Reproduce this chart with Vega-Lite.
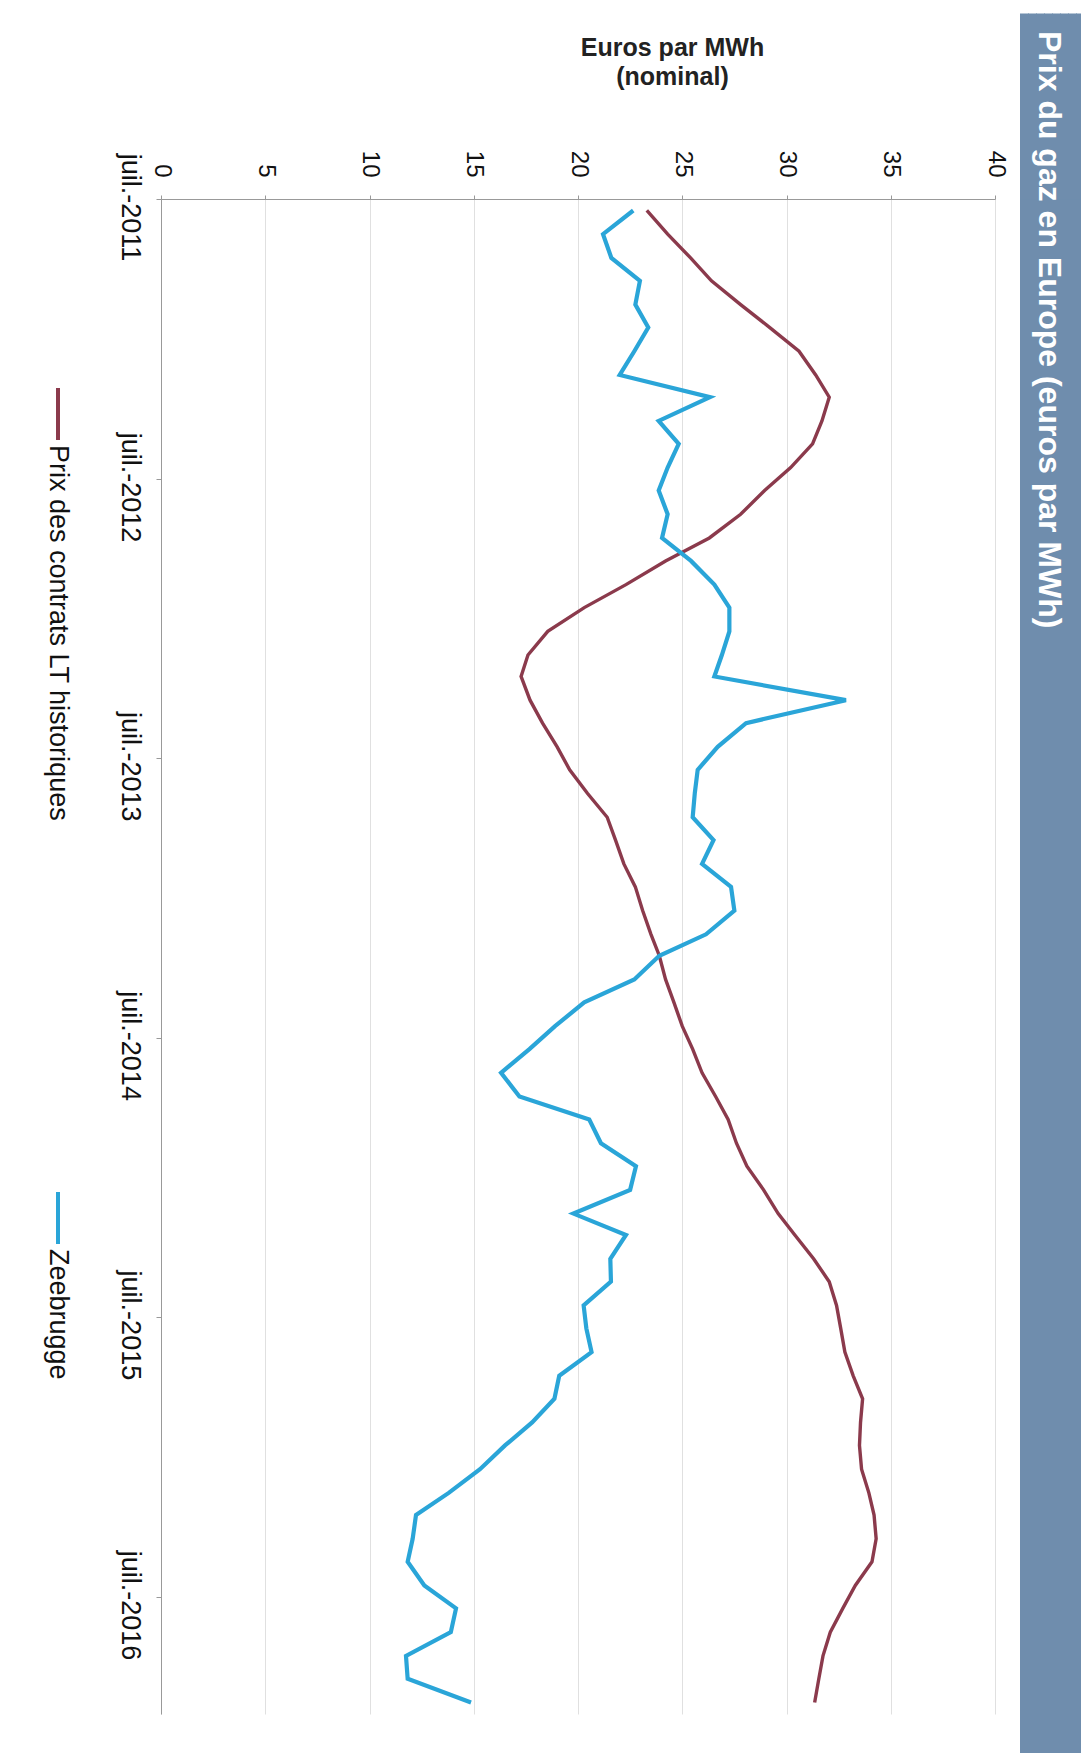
{
  "$schema": "https://vega.github.io/schema/vega-lite/v6.json",
  "padding": {"left": 13, "top": 6, "right": 0, "bottom": 0},
  "background": "white",
  "spacing": 12,
  "config": {"font": "Liberation Sans", "view": {"stroke": null}},
  "hconcat": [
    {
      "width": 90,
      "height": 1234,
      "data": {"values": [{"series": "Prix des contrats LT historiques"}, {"series": "Zeebrugge"}]},
      "encoding": {
        "y": {"field": "series", "type": "nominal", "scale": {"type": "point", "padding": 0.2674, "domain": ["Prix des contrats LT historiques", "Zeebrugge"]}, "axis": null}
      },
      "layer": [
        {
          "mark": {"type": "tick", "orient": "vertical", "size": 52, "thickness": 4, "opacity": 1},
          "encoding": {
            "color": {"field": "series", "type": "nominal", "scale": {"domain": ["Prix des contrats LT historiques", "Zeebrugge"], "range": ["#8b3a4c", "#2aa5d8"]}, "legend": null}
          }
        },
        {
          "mark": {"type": "text", "angle": 90, "align": "left", "baseline": "middle", "dx": 31, "fontSize": 27, "color": "#111111"},
          "encoding": {"text": {"field": "series"}}
        }
      ]
    },
    {
      "width": 834,
      "height": 1515,
      "data": {"values": [
        {"date": "2011-07-16", "Prix des contrats LT historiques": 23.3, "Zeebrugge": 22.65},
        {"date": "2011-08-16", "Prix des contrats LT historiques": 24.3, "Zeebrugge": 21.2},
        {"date": "2011-09-16", "Prix des contrats LT historiques": 25.4, "Zeebrugge": 21.6},
        {"date": "2011-10-16", "Prix des contrats LT historiques": 26.4, "Zeebrugge": 22.97},
        {"date": "2011-11-16", "Prix des contrats LT historiques": 27.8, "Zeebrugge": 22.75},
        {"date": "2011-12-16", "Prix des contrats LT historiques": 29.2, "Zeebrugge": 23.37},
        {"date": "2012-01-16", "Prix des contrats LT historiques": 30.6, "Zeebrugge": 22.7},
        {"date": "2012-02-16", "Prix des contrats LT historiques": 31.4, "Zeebrugge": 22.0},
        {"date": "2012-03-16", "Prix des contrats LT historiques": 32.05, "Zeebrugge": 26.33},
        {"date": "2012-04-16", "Prix des contrats LT historiques": 31.7, "Zeebrugge": 23.87},
        {"date": "2012-05-16", "Prix des contrats LT historiques": 31.25, "Zeebrugge": 24.83},
        {"date": "2012-06-16", "Prix des contrats LT historiques": 30.2, "Zeebrugge": 24.3},
        {"date": "2012-07-16", "Prix des contrats LT historiques": 28.95, "Zeebrugge": 23.87},
        {"date": "2012-08-16", "Prix des contrats LT historiques": 27.8, "Zeebrugge": 24.3},
        {"date": "2012-09-16", "Prix des contrats LT historiques": 26.3, "Zeebrugge": 24.03},
        {"date": "2012-10-16", "Prix des contrats LT historiques": 24.2, "Zeebrugge": 25.42},
        {"date": "2012-11-16", "Prix des contrats LT historiques": 22.3, "Zeebrugge": 26.54},
        {"date": "2012-12-16", "Prix des contrats LT historiques": 20.3, "Zeebrugge": 27.26},
        {"date": "2013-01-16", "Prix des contrats LT historiques": 18.55, "Zeebrugge": 27.26},
        {"date": "2013-02-16", "Prix des contrats LT historiques": 17.6, "Zeebrugge": 26.9},
        {"date": "2013-03-16", "Prix des contrats LT historiques": 17.27, "Zeebrugge": 26.54},
        {"date": "2013-04-16", "Prix des contrats LT historiques": 17.7, "Zeebrugge": 32.85},
        {"date": "2013-05-16", "Prix des contrats LT historiques": 18.3, "Zeebrugge": 28.06},
        {"date": "2013-06-16", "Prix des contrats LT historiques": 19.0, "Zeebrugge": 26.7},
        {"date": "2013-07-16", "Prix des contrats LT historiques": 19.6, "Zeebrugge": 25.74},
        {"date": "2013-08-16", "Prix des contrats LT historiques": 20.46, "Zeebrugge": 25.6},
        {"date": "2013-09-16", "Prix des contrats LT historiques": 21.4, "Zeebrugge": 25.5},
        {"date": "2013-10-16", "Prix des contrats LT historiques": 21.8, "Zeebrugge": 26.5},
        {"date": "2013-11-16", "Prix des contrats LT historiques": 22.2, "Zeebrugge": 25.95},
        {"date": "2013-12-16", "Prix des contrats LT historiques": 22.75, "Zeebrugge": 27.34},
        {"date": "2014-01-16", "Prix des contrats LT historiques": 23.1, "Zeebrugge": 27.5},
        {"date": "2014-02-16", "Prix des contrats LT historiques": 23.5, "Zeebrugge": 26.14},
        {"date": "2014-03-16", "Prix des contrats LT historiques": 23.9, "Zeebrugge": 23.9},
        {"date": "2014-04-16", "Prix des contrats LT historiques": 24.2, "Zeebrugge": 22.7},
        {"date": "2014-05-16", "Prix des contrats LT historiques": 24.6, "Zeebrugge": 20.3},
        {"date": "2014-06-16", "Prix des contrats LT historiques": 25.0, "Zeebrugge": 18.9},
        {"date": "2014-07-16", "Prix des contrats LT historiques": 25.5, "Zeebrugge": 17.67},
        {"date": "2014-08-16", "Prix des contrats LT historiques": 25.95, "Zeebrugge": 16.31},
        {"date": "2014-09-16", "Prix des contrats LT historiques": 26.6, "Zeebrugge": 17.19},
        {"date": "2014-10-16", "Prix des contrats LT historiques": 27.2, "Zeebrugge": 20.54},
        {"date": "2014-11-16", "Prix des contrats LT historiques": 27.6, "Zeebrugge": 21.1},
        {"date": "2014-12-16", "Prix des contrats LT historiques": 28.1, "Zeebrugge": 22.78},
        {"date": "2015-01-16", "Prix des contrats LT historiques": 28.9, "Zeebrugge": 22.5},
        {"date": "2015-02-16", "Prix des contrats LT historiques": 29.6, "Zeebrugge": 19.78},
        {"date": "2015-03-16", "Prix des contrats LT historiques": 30.4, "Zeebrugge": 22.3},
        {"date": "2015-04-16", "Prix des contrats LT historiques": 31.3, "Zeebrugge": 21.55},
        {"date": "2015-05-16", "Prix des contrats LT historiques": 32.05, "Zeebrugge": 21.58},
        {"date": "2015-06-16", "Prix des contrats LT historiques": 32.4, "Zeebrugge": 20.27},
        {"date": "2015-07-16", "Prix des contrats LT historiques": 32.6, "Zeebrugge": 20.4},
        {"date": "2015-08-16", "Prix des contrats LT historiques": 32.8, "Zeebrugge": 20.65},
        {"date": "2015-09-16", "Prix des contrats LT historiques": 33.2, "Zeebrugge": 19.1},
        {"date": "2015-10-16", "Prix des contrats LT historiques": 33.65, "Zeebrugge": 18.87},
        {"date": "2015-11-16", "Prix des contrats LT historiques": 33.55, "Zeebrugge": 17.8},
        {"date": "2015-12-16", "Prix des contrats LT historiques": 33.5, "Zeebrugge": 16.5},
        {"date": "2016-01-16", "Prix des contrats LT historiques": 33.6, "Zeebrugge": 15.3},
        {"date": "2016-02-16", "Prix des contrats LT historiques": 33.95, "Zeebrugge": 13.8},
        {"date": "2016-03-16", "Prix des contrats LT historiques": 34.2, "Zeebrugge": 12.23},
        {"date": "2016-04-16", "Prix des contrats LT historiques": 34.3, "Zeebrugge": 12.07},
        {"date": "2016-05-16", "Prix des contrats LT historiques": 34.1, "Zeebrugge": 11.83},
        {"date": "2016-06-16", "Prix des contrats LT historiques": 33.3, "Zeebrugge": 12.63},
        {"date": "2016-07-16", "Prix des contrats LT historiques": 32.7, "Zeebrugge": 14.15},
        {"date": "2016-08-16", "Prix des contrats LT historiques": 32.1, "Zeebrugge": 13.9},
        {"date": "2016-09-16", "Prix des contrats LT historiques": 31.75, "Zeebrugge": 11.75},
        {"date": "2016-10-16", "Prix des contrats LT historiques": 31.55, "Zeebrugge": 11.83},
        {"date": "2016-11-16", "Prix des contrats LT historiques": 31.35, "Zeebrugge": 14.87}
      ]},
      "transform": [{"fold": ["Prix des contrats LT historiques", "Zeebrugge"], "as": ["series", "value"]}],
      "mark": {"type": "line"},
      "encoding": {
        "y": {
          "field": "date", "type": "temporal",
          "scale": {"type": "utc", "domain": [{"year": 2011, "month": 7, "date": 1, "utc": true}, {"year": 2016, "month": 12, "date": 1, "utc": true}], "reverse": true},
          "axis": {
            "orient": "left",
            "values": [
              {"year": 2011, "month": 7, "date": 1, "utc": true},
              {"year": 2012, "month": 7, "date": 1, "utc": true},
              {"year": 2013, "month": 7, "date": 1, "utc": true},
              {"year": 2014, "month": 7, "date": 1, "utc": true},
              {"year": 2015, "month": 7, "date": 1, "utc": true},
              {"year": 2016, "month": 7, "date": 1, "utc": true}
            ],
            "labelExpr": "'juil.-' + utcFormat(datum.value, '%Y')",
            "labelAngle": 90, "labelAlign": "center", "labelBaseline": "top",
            "labelFontSize": 27, "labelColor": "#111111", "labelPadding": 14, "labelOffset": 8,
            "labelFlush": false, "labelOverlap": false,
            "tickSize": 5, "tickColor": "#999999", "domainColor": "#999999",
            "grid": false, "title": null
          }
        },
        "x": {
          "field": "value", "type": "quantitative",
          "scale": {"domain": [0, 40], "nice": false},
          "axis": {
            "orient": "top",
            "values": [0, 5, 10, 15, 20, 25, 30, 35, 40],
            "labelAngle": 90, "labelAlign": "right", "labelBaseline": "middle",
            "labelFontSize": 24, "labelColor": "#111111", "labelPadding": 18,
            "labelFlush": false, "labelOverlap": false,
            "tickSize": 4, "tickColor": "#999999", "domainColor": "#999999",
            "grid": true, "gridColor": "#e0e0e0", "gridWidth": 1,
            "title": ["", "Euros par MWh", "(nominal)"],
            "titleFontSize": 25, "titleFontWeight": "bold", "titleColor": "#222222",
            "titleAngle": 0, "titleAlign": "center", "titleBaseline": "top",
            "titleX": 511, "titleY": -193, "titleLineHeight": 29
          }
        },
        "color": {"field": "series", "type": "nominal", "scale": {"domain": ["Prix des contrats LT historiques", "Zeebrugge"], "range": ["#8b3a4c", "#2aa5d8"]}, "legend": null},
        "strokeWidth": {"field": "series", "type": "nominal", "scale": {"domain": ["Prix des contrats LT historiques", "Zeebrugge"], "range": [3.4, 4.2]}, "legend": null}
      }
    },
    {
      "width": 64,
      "height": 1554,
      "view": {"fill": "#6f8dad", "stroke": null},
      "data": {"values": []},
      "mark": {"type": "point", "opacity": 0},
      "encoding": {
        "x": {
          "field": "band", "type": "quantitative",
          "scale": {"domain": [0, 1], "nice": false},
          "axis": {
            "orient": "top", "values": [0.0625, 0.1875, 0.3125, 0.4375, 0.5625, 0.6875, 0.8125, 0.9375],
            "labels": false, "domain": false, "grid": false, "title": null,
            "tickSize": 186, "tickWidth": 9, "tickColor": "#6f8dad", "tickCap": "butt", "tickOpacity": 1
          }
        }
      },
      "title": {
        "text": "Prix du gaz en Europe (euros par MWh)",
        "orient": "right", "anchor": "start", "frame": "group", "angle": 90, "align": "left", "baseline": "middle",
        "offset": -68, "dx": -168, "fontSize": 32, "fontWeight": "bold", "color": "white", "font": "Liberation Sans"
      }
    }
  ]
}
